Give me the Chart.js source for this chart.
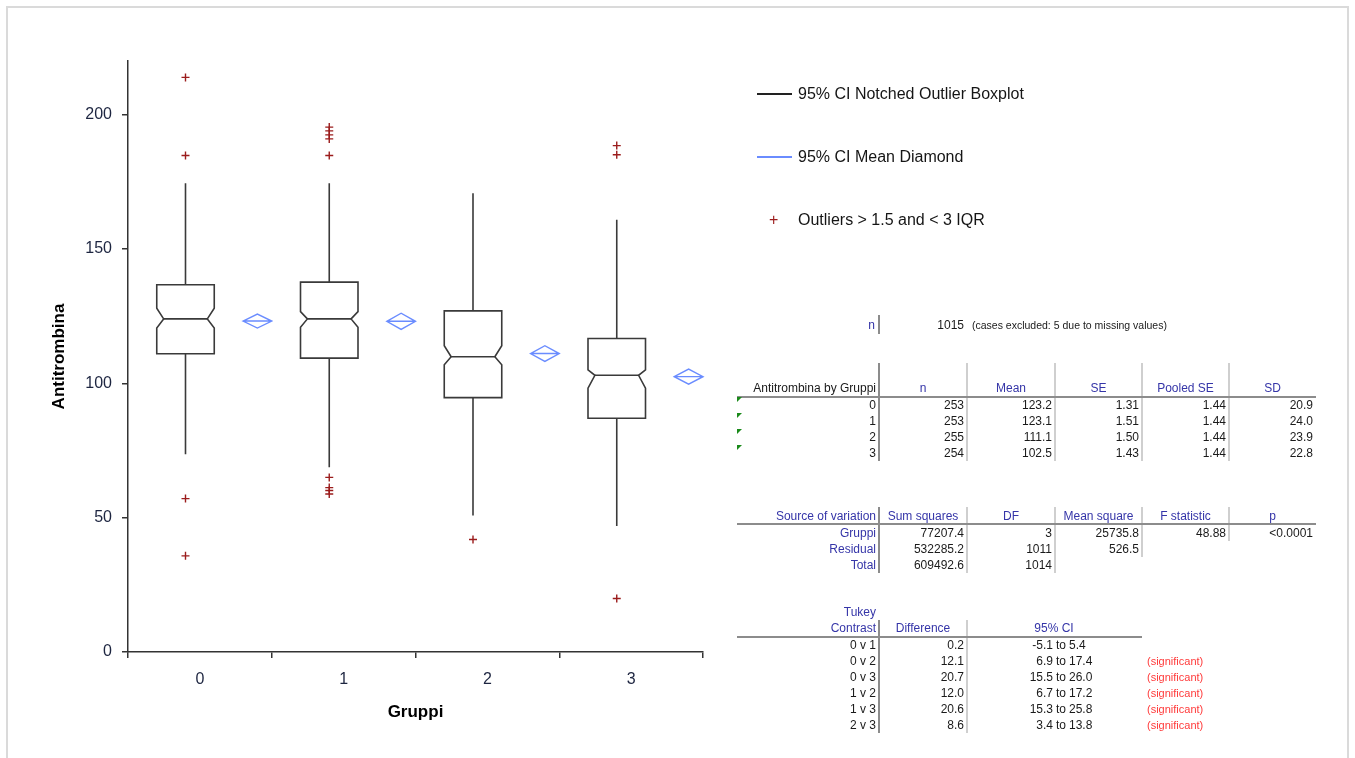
<!DOCTYPE html>
<html>
<head>
<meta charset="utf-8">
<script src="https://cdn.jsdelivr.net/npm/chart.js@4.4.0/dist/chart.umd.min.js"></script>
<style>
html,body{margin:0;padding:0;background:#fff;}
body{width:1355px;height:758px;position:relative;overflow:hidden;font-family:"Liberation Sans",Arial,sans-serif;}
#frame{position:absolute;left:6px;top:6px;width:1339px;height:800px;border:2px solid #dadada;}
#box-chart{position:absolute;left:0;top:0;}
.t{position:absolute;white-space:nowrap;font-size:12px;line-height:16px;height:16px;color:#1a1a1a;}
.hd{color:#3535a8;}
.small{font-size:10.5px;}
.sig{color:#ff3a3a;font-size:11px;}
.ln{position:absolute;}
.lg{position:absolute;white-space:nowrap;font-size:16px;line-height:20px;color:#151515;}
.tri{position:absolute;width:0;height:0;border-top:5px solid #1a8a1a;border-right:5px solid transparent;}
</style>
</head>
<body>
<div id="frame"></div>
<canvas id="box-chart" width="1355" height="758"></canvas>
<div id="side"></div>
<script>
// groups and box statistics
const groups = ['0', '1', '2', '3'];
const q1 = [111.0, 109.4, 94.7, 87.0];
const median = [124.0, 124.0, 109.9, 103.0];
const q3 = [136.7, 137.7, 127.0, 116.7];
const notchLo = [120.6, 120.9, 106.9, 98.2];
const notchHi = [128.0, 126.7, 114.0, 105.0];
const whiskerLo = [73.6, 68.8, 50.8, 46.9];
const whiskerHi = [174.5, 174.5, 170.8, 160.9];
const means = [123.2, 123.1, 111.1, 102.5];
const meanCiLo = [120.6, 120.1, 108.2, 99.7];
const meanCiHi = [125.8, 126.1, 114.0, 105.3];
const outliers = [
	[213.9, 184.8, 57.1, 35.8],
	[195.4, 194.0, 192.5, 191.0, 184.8, 65.0, 61.2, 60.1, 58.8],
	[41.9],
	[188.5, 185.1, 19.9]
];
const yTicks = [0, 50, 100, 150, 200];

// table contents
const nTotal = '1015';
const nNote = '(cases excluded: 5 due to missing values)';
const statHead = ['n', 'Mean', 'SE', 'Pooled SE', 'SD'];
const statN = ['253', '253', '255', '254'];
const statMean = ['123.2', '123.1', '111.1', '102.5'];
const statSE = ['1.31', '1.51', '1.50', '1.43'];
const statPooled = ['1.44', '1.44', '1.44', '1.44'];
const statSD = ['20.9', '24.0', '23.9', '22.8'];
const anovaHead = ['Sum squares', 'DF', 'Mean square', 'F statistic', 'p'];
const anovaRows = ['Gruppi', 'Residual', 'Total'];
const anovaSS = ['77207.4', '532285.2', '609492.6'];
const anovaDF = ['3', '1011', '1014'];
const anovaMS = ['25735.8', '526.5', ''];
const anovaF = ['48.88', '', ''];
const anovaP = ['<0.0001', '', ''];
const contrasts = ['0 v 1', '0 v 2', '0 v 3', '1 v 2', '1 v 3', '2 v 3'];
const diffs = ['0.2', '12.1', '20.7', '12.0', '20.6', '8.6'];
const ciLow = ['-5.1', '6.9', '15.5', '6.7', '15.3', '3.4'];
const ciHigh = ['5.4', '17.4', '26.0', '17.2', '25.8', '13.8'];
const significant = [false, true, true, true, true, true];

const BOX_POS = 0.4, BOX_HALF = 0.2, DIA_POS = 0.9, DIA_HALF = 0.1;
const FONT = '"Liberation Sans", Arial, sans-serif';

let outlierPts = [];
outliers.forEach((arr, i) => arr.forEach(v => outlierPts.push({x: i + BOX_POS, y: v})));

const boxPlugin = {
	id: 'notchedBoxes',
	afterDatasetsDraw(chart){
		const {ctx, scales: {x, y}} = chart;
		const catW = x.getPixelForValue(1) - x.getPixelForValue(0);
		ctx.save();
		ctx.lineJoin = 'miter';
		groups.forEach((g, i) => {
			// notched box
			const cx = x.getPixelForValue(i + BOX_POS);
			const hw = catW * BOX_HALF, inset = hw * 0.24;
			const l = cx - hw, r = cx + hw;
			const yq1 = y.getPixelForValue(q1[i]), yq3 = y.getPixelForValue(q3[i]);
			const ym = y.getPixelForValue(median[i]);
			const ynl = y.getPixelForValue(notchLo[i]), ynh = y.getPixelForValue(notchHi[i]);
			ctx.strokeStyle = '#3a3a3a';
			ctx.lineWidth = 1.6;
			ctx.beginPath();
			ctx.moveTo(l, yq3); ctx.lineTo(r, yq3); ctx.lineTo(r, ynh);
			ctx.lineTo(r - inset, ym); ctx.lineTo(r, ynl); ctx.lineTo(r, yq1);
			ctx.lineTo(l, yq1); ctx.lineTo(l, ynl); ctx.lineTo(l + inset, ym);
			ctx.lineTo(l, ynh); ctx.closePath();
			ctx.stroke();
			ctx.beginPath();
			ctx.moveTo(l + inset, ym); ctx.lineTo(r - inset, ym);
			ctx.moveTo(cx, yq3); ctx.lineTo(cx, y.getPixelForValue(whiskerHi[i]));
			ctx.moveTo(cx, yq1); ctx.lineTo(cx, y.getPixelForValue(whiskerLo[i]));
			ctx.stroke();
			// mean diamond
			const dx = x.getPixelForValue(i + DIA_POS), dw = catW * DIA_HALF;
			const ymu = y.getPixelForValue(means[i]);
			ctx.strokeStyle = '#6a8cff';
			ctx.lineWidth = 1.4;
			ctx.beginPath();
			ctx.moveTo(dx - dw, ymu); ctx.lineTo(dx, y.getPixelForValue(meanCiHi[i]));
			ctx.lineTo(dx + dw, ymu); ctx.lineTo(dx, y.getPixelForValue(meanCiLo[i]));
			ctx.closePath();
			ctx.moveTo(dx - dw, ymu); ctx.lineTo(dx + dw, ymu);
			ctx.stroke();
		});
		ctx.restore();
	}
};

let chart = new Chart(document.getElementById('box-chart'), {
	type: 'scatter',
	data: {
		datasets: [{
			label: 'Outliers > 1.5 and < 3 IQR',
			data: outlierPts,
			pointStyle: 'cross',
			radius: 4,
			borderColor: '#9b1c1c',
			borderWidth: 1.4
		}]
	},
	options: {
		responsive: false,
		animation: false,
		devicePixelRatio: 1,
		layout: {padding: {left: 0, top: 61, right: 652, bottom: 26}},
		plugins: {legend: {display: false}, tooltip: {enabled: false}},
		scales: {
			x: {
				type: 'linear', min: 0, max: 4,
				ticks: {
					stepSize: 1, labelOffset: 72, padding: 12, maxRotation: 0,
					color: '#1d2540', font: {family: FONT, size: 16},
					callback: v => v < groups.length ? groups[v] : ''
				},
				grid: {drawOnChartArea: false, tickLength: 6, color: '#333', lineWidth: 1.5},
				border: {color: '#333', width: 1.5},
				title: {display: true, text: 'Gruppi', color: '#000', font: {family: FONT, size: 17, weight: 'bold'}, padding: {top: 0, bottom: 9}},
				afterFit: s => { s.height = 80; }
			},
			y: {
				min: 0, max: 220,
				afterBuildTicks: s => { s.ticks = yTicks.map(v => ({value: v})); },
				ticks: {padding: 10, color: '#1d2540', font: {family: FONT, size: 16}},
				grid: {drawOnChartArea: false, tickLength: 6, color: '#333', lineWidth: 1.5},
				border: {color: '#333', width: 1.5},
				title: {display: true, text: 'Antitrombina', color: '#000', font: {family: FONT, size: 17, weight: 'bold'}, padding: {top: 49, bottom: 0}},
				afterFit: s => { s.width = 128; }
			}
		}
	},
	plugins: [boxPlugin]
});

// legend and tables on the right
const side = document.getElementById('side');
function txt(str, x, cy, align, cls){
	const d = document.createElement('div');
	d.className = 't' + (cls ? ' ' + cls : '');
	d.textContent = str;
	d.style.top = (cy - 8) + 'px';
	if(align === 'r'){ d.style.right = (1355 - x) + 'px'; }
	else if(align === 'c'){ d.style.left = (x - 100) + 'px'; d.style.width = '200px'; d.style.textAlign = 'center'; }
	else { d.style.left = x + 'px'; }
	side.appendChild(d);
}
function line(x1, y1, x2, y2, color, w){
	const d = document.createElement('div');
	d.className = 'ln';
	if(y1 === y2){
		d.style.left = x1 + 'px'; d.style.top = (y1 - w / 2) + 'px';
		d.style.width = (x2 - x1) + 'px'; d.style.height = w + 'px';
	}else{
		d.style.left = (x1 - w / 2) + 'px'; d.style.top = y1 + 'px';
		d.style.width = w + 'px'; d.style.height = (y2 - y1) + 'px';
	}
	d.style.background = color;
	side.appendChild(d);
}
function legendItem(cy, color, text, cross){
	if(cross){
		const p = document.createElement('div');
		p.className = 'lg';
		p.style.left = '769px'; p.style.top = (cy - 10) + 'px';
		p.style.color = '#9b1c1c';
		p.textContent = '+';
		side.appendChild(p);
	}else{
		line(757, cy, 792, cy, color, 1.5);
	}
	const d = document.createElement('div');
	d.className = 'lg';
	d.style.left = '798px'; d.style.top = (cy - 10) + 'px';
	d.textContent = text;
	side.appendChild(d);
}
legendItem(94, '#222', '95% CI Notched Outlier Boxplot');
legendItem(157, '#6a8cff', '95% CI Mean Diamond');
legendItem(220, '', 'Outliers > 1.5 and < 3 IQR', true);

const cols = [737, 879, 967, 1055, 1142, 1229, 1316];
const dark = '#8c8c8c', light = '#cfcfcf';

// n row
txt('n', 875, 325, 'r', 'hd');
line(879, 315, 879, 334, dark, 2);
txt(nTotal, 964, 325, 'r');
txt(nNote, 972, 325, 'l', 'small');

// descriptive table
line(879, 363, 879, 461, dark, 2);
for(let c = 2; c < 6; c++) line(cols[c], 363, cols[c], 461, light, 1.5);
line(737, 397, 1316, 397, dark, 2);
txt('Antitrombina by Gruppi', 876, 388, 'r');
statHead.forEach((h, c) => txt(h, (cols[c + 1] + cols[c + 2]) / 2, 388, 'c', 'hd'));
const statCols = [statN, statMean, statSE, statPooled, statSD];
groups.forEach((g, r) => {
	const cy = 405 + r * 16;
	const tri = document.createElement('div');
	tri.className = 'tri';
	tri.style.left = '737px'; tri.style.top = (cy - 8) + 'px';
	side.appendChild(tri);
	txt(g, 876, cy, 'r');
	statCols.forEach((arr, c) => txt(arr[r], cols[c + 2] - 3, cy, 'r'));
});

// anova table
line(879, 507, 879, 573, dark, 2);
line(967, 507, 967, 573, light, 1.5);
line(1055, 507, 1055, 573, light, 1.5);
line(1142, 507, 1142, 557, light, 1.5);
line(1229, 507, 1229, 541, light, 1.5);
line(737, 524, 1316, 524, dark, 2);
txt('Source of variation', 876, 516, 'r', 'hd');
anovaHead.forEach((h, c) => txt(h, (cols[c + 1] + cols[c + 2]) / 2, 516, 'c', 'hd'));
const anovaCols = [anovaSS, anovaDF, anovaMS, anovaF, anovaP];
anovaRows.forEach((name, r) => {
	const cy = 533 + r * 16;
	txt(name, 876, cy, 'r', 'hd');
	anovaCols.forEach((arr, c) => { if(arr[r]) txt(arr[r], cols[c + 2] - 3, cy, 'r'); });
});

// tukey table
line(879, 620, 879, 733, dark, 2);
line(967, 620, 967, 733, light, 1.5);
line(737, 637, 1142, 637, dark, 2);
txt('Tukey', 876, 612, 'r', 'hd');
txt('Contrast', 876, 628, 'r', 'hd');
txt('Difference', 923, 628, 'c', 'hd');
txt('95% CI', 1054, 628, 'c', 'hd');
contrasts.forEach((name, r) => {
	const cy = 644.5 + r * 16.1;
	txt(name, 876, cy, 'r');
	txt(diffs[r], 964, cy, 'r');
	txt(ciLow[r], 1053, cy, 'r');
	txt('to', 1056, cy, 'l');
	txt(ciHigh[r], 1069, cy, 'l');
	if(significant[r]) txt('(significant)', 1147, cy, 'l', 'sig');
});
</script>
</body>
</html>
